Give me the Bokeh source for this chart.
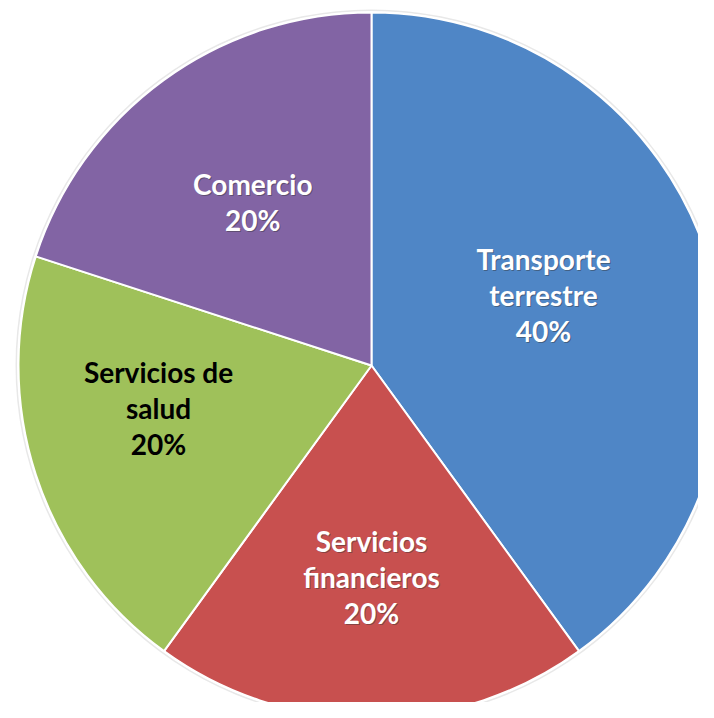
import math
from bokeh.plotting import figure
from bokeh.models import Range1d, ColumnDataSource
from bokeh.core.properties import value
from bokeh.embed import file_html
from bokeh.resources import INLINE

# ---- data ----
categories = ["Transporte terrestre", "Servicios financieros", "Servicios de salud", "Comercio"]
label_lines = [["Transporte", "terrestre"], ["Servicios", "financieros"], ["Servicios de", "salud"], ["Comercio"]]
shares = [40, 20, 20, 20]

# ---- style ----
colors = ["#4F86C6", "#C8504F", "#9FC15A", "#8264A4"]
text_colors = ["white", "white", "black", "white"]
label_r = [0.527, 0.60, 0.615, 0.572]
label_dtheta = [-4.4, 0, 6.8, 0]   # degrees, clockwise shift of label anchor

W, H = 698, 702
cx, cy, R = 371, H - 365, 353

p = figure(width=W, height=H, output_backend="svg", toolbar_location=None,
           x_range=Range1d(0, W), y_range=Range1d(0, H), min_border=0)
p.axis.visible = False
p.grid.visible = False
p.outline_line_color = None
p.background_fill_color = "white"

total = sum(shares)
starts, ends, mids = [], [], []
acc = 0.0
for s in shares:
    a0 = math.radians(90 - 360 * acc / total)
    acc += s
    a1 = math.radians(90 - 360 * acc / total)
    starts.append(a0)
    ends.append(a1)
    mids.append((a0 + a1) / 2)

# soft shadow edge
p.circle(x=[cx], y=[cy], radius=R + 3, fill_color="#bdbdbd", fill_alpha=0.35, line_color=None)
p.circle(x=[cx], y=[cy], radius=R + 1.5, fill_color="white", line_color=None)

src = ColumnDataSource(dict(start=starts, end=ends, color=colors, cat=categories))
p.wedge(x=cx, y=cy, radius=R, start_angle="start", end_angle="end", direction="clock",
        fill_color="color", line_color="white", line_width=2, source=src)

fs = 28
lh = 36
for i, cat in enumerate(categories):
    lines = label_lines[i] + [f"{shares[i] * 100 // total}%"]
    ang = mids[i] - math.radians(label_dtheta[i])
    lx = cx + label_r[i] * R * math.cos(ang)
    ly = cy + label_r[i] * R * math.sin(ang)
    n = len(lines)
    ys = [ly + ((n - 1) / 2 - k) * lh for k in range(n)]
    if text_colors[i] == "white":
        p.text(x=[lx + 1] * n, y=[y - 1 for y in ys], text=lines, text_align="center",
               text_baseline="middle", text_font=value("Lato"), text_font_style="bold",
               text_font_size=f"{fs}px", text_color="#333333", text_alpha=0.45)
    p.text(x=[lx] * n, y=ys, text=lines, text_align="center", text_baseline="middle",
           text_font=value("Lato"), text_font_style="bold", text_font_size=f"{fs}px",
           text_color=text_colors[i])

open("out.html", "w").write(file_html(p, INLINE))
